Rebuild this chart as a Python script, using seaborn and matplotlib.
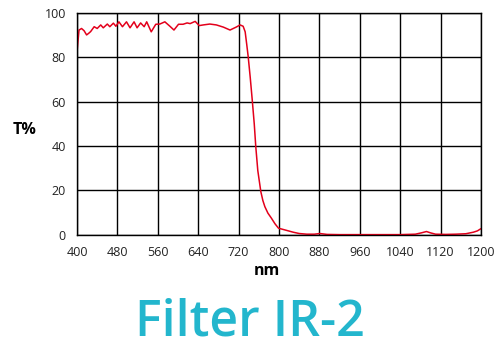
import numpy as np
import pandas as pd
import matplotlib
matplotlib.use("Agg")
import matplotlib.pyplot as plt
import seaborn as sns

# wavelength (nm) and transmission (%)
wavelength = [400, 404, 409, 414, 419, 423, 427, 434, 440, 447, 452, 460, 465,
              472, 477, 483, 490, 498, 505, 513, 519, 526, 533, 538, 547, 556,
              564, 574, 584, 592, 601, 610, 618, 624, 634, 642, 650, 663, 676,
              690, 703, 715, 723, 729, 733, 736, 739, 743, 747, 751, 754, 758,
              764, 768, 772, 778, 785, 792, 799, 812, 828, 840, 855, 870, 881,
              895, 920, 960, 1000, 1040, 1070, 1082, 1092, 1100, 1110, 1130,
              1150, 1170, 1185, 1193, 1200]
transmission = [82.5, 92.3, 93.0, 92.0, 90.1, 90.8, 91.6, 93.8, 93.0, 94.6,
                93.3, 95.0, 93.8, 95.4, 94.0, 96.0, 93.8, 96.0, 93.3, 96.0,
                93.3, 95.5, 93.8, 96.0, 91.5, 94.9, 95.0, 96.0, 94.0, 92.3,
                94.9, 94.9, 95.5, 95.2, 96.2, 94.3, 94.6, 95.0, 94.6, 93.6,
                92.3, 93.6, 94.6, 94.0, 91.5, 86.0, 80.3, 71.0, 60.8, 50.0,
                39.8, 29.0, 19.5, 15.5, 12.7, 9.8, 7.5, 5.0, 3.0, 2.2, 1.2,
                0.6, 0.3, 0.3, 0.6, 0.2, 0.1, 0.1, 0.1, 0.1, 0.3, 0.9, 1.5,
                0.9, 0.3, 0.2, 0.3, 0.5, 1.2, 1.8, 2.8]

x_ticks = [400, 480, 560, 640, 720, 800, 880, 960, 1040, 1120, 1200]
y_ticks = [0, 20, 40, 60, 80, 100]

df = pd.DataFrame({"nm": wavelength, "T": transmission})

sns.set_style("white")
plt.rcParams["font.family"] = ["Open Sans", "DejaVu Sans"]

fig = plt.figure(figsize=(5, 3.5), dpi=100)
ax = fig.add_axes([0.154, 0.329, 0.808, 0.634])

sns.lineplot(data=df, x="nm", y="T", color="#e3001b", linewidth=1.1,
             sort=False, ax=ax)

ax.set_xlim(400, 1200)
ax.set_ylim(0, 100)
ax.set_xticks(x_ticks)
ax.set_yticks(y_ticks)
ax.grid(True, color="black", linewidth=1)
ax.set_axisbelow(True)
for s in ax.spines.values():
    s.set_color("black")
    s.set_linewidth(1)
ax.tick_params(axis="both", direction="out", length=5, width=1,
               color="black", labelsize=9, labelcolor="#222222")
ax.tick_params(axis="x", pad=3)
ax.tick_params(axis="y", pad=3)
ax.set_xlabel("")
ax.set_ylabel("")

fig.text(25 / 500, 1 - 130 / 350, "T%", ha="center", va="center",
         fontsize=11.5, fontweight="bold", color="black")
fig.text(267 / 500, 1 - 271 / 350, "nm", ha="center", va="center",
         fontsize=11.5, fontweight="bold", color="black")
fig.text(250 / 500, 1 - 322 / 350, "Filter IR-2", ha="center", va="center",
         fontsize=36, fontweight="semibold", color="#23b6cd")

fig.savefig("out.png", dpi=100, facecolor="white")
